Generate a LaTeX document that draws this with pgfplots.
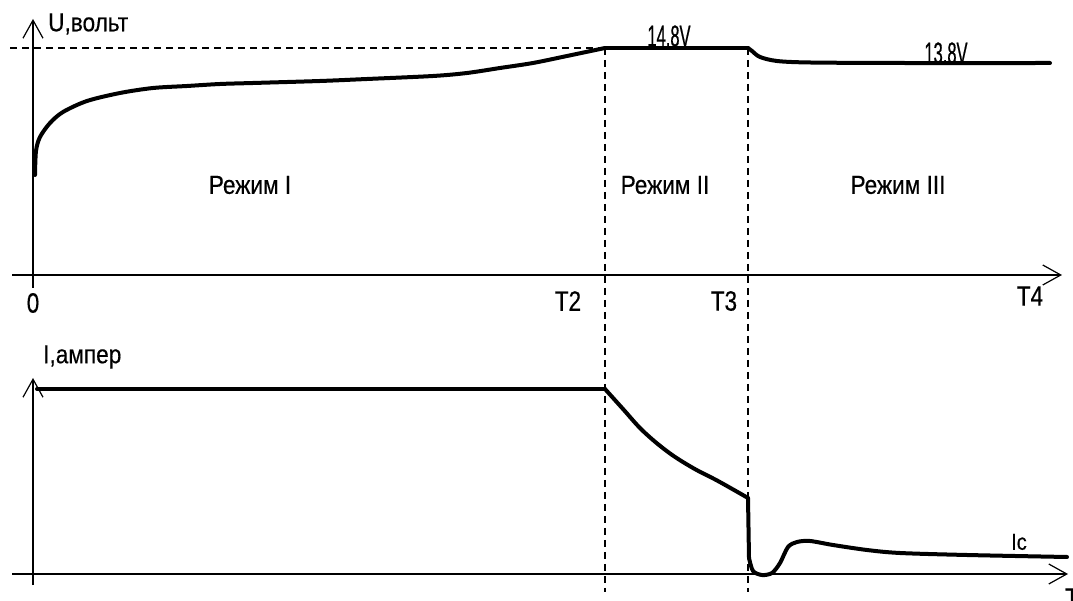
\documentclass[border=0pt]{standalone}
\usepackage{pgfplots}
\pgfplotsset{compat=1.18}
\usepackage{fontspec}
\setmainfont{Liberation Sans}
\newfontfamily\labA[FakeStretch=0.87,FakeBold=0.4]{Liberation Sans}
\newfontfamily\labT[FakeStretch=0.8,FakeBold=0.4]{Liberation Sans}
\newfontfamily\labV[FakeStretch=0.55,FakeBold=0.5]{Liberation Sans}
\usetikzlibrary{arrows.meta}
\begin{document}
\begin{tikzpicture}
\pgfplotsset{
  myax/.style={
    scale only axis, axis lines*=middle, clip=false,
    xtick=\empty, ytick=\empty,
    axis line style={line width=1.2bp,-{Straight Barb[length=18bp,width=20bp]}},
  },
  curve/.style={black, line width=4bp, line cap=round, line join=round},
  dsh/.style={black, line width=1.3bp, dash pattern=on 7bp off 5bp},
}
% ---------- top panel: voltage ----------
\begin{axis}[myax, at={(12bp,313bp)}, anchor=south west,
  width=1050bp, height=269bp, xmin=-21, xmax=1029, ymin=-13, ymax=256]
\addplot[dsh] coordinates {(-23,227) (572,227)};
\addplot[dsh] coordinates {(572,227) (572,-317)};
\addplot[dsh] coordinates {(715,227) (715,-317)};
\addplot[curve, smooth, tension=0.5] coordinates {
 (2,100) (3,124) (7,138) (17,152) (30,163) (54,174) (87,182) (120,187)
 (154,189) (187,191) (220,192) (287,194) (334,196) (400,199) (434,202)
 (467,207) (500,212) (534,219) (572,227)};
\addplot[curve] coordinates {(572,227) (715,227)};
\addplot[curve, smooth, tension=0.5] coordinates {
 (715,227) (719,224) (727,218) (744,214) (777,212.5) (867,212) (1017,212)};
\node[anchor=west, inner sep=0pt] at (axis cs:15,251) {\labA\fontsize{26bp}{30bp}\selectfont U,вольт};
\node at (axis cs:217,90) {\labA\fontsize{26bp}{30bp}\selectfont Режим I};
\node at (axis cs:632,90) {\labA\fontsize{26bp}{30bp}\selectfont Режим II};
\node at (axis cs:865,90) {\labA\fontsize{26bp}{30bp}\selectfont Режим III};
\node at (axis cs:636,239) {\labV\fontsize{30bp}{34bp}\selectfont 14.8V};
\node at (axis cs:913,222) {\labV\fontsize{30bp}{34bp}\selectfont 13.8V};
\node at (axis cs:0,-28) {\labT\fontsize{28bp}{32bp}\selectfont 0};
\node at (axis cs:535,-26) {\labT\fontsize{28bp}{32bp}\selectfont T2};
\node at (axis cs:691,-26) {\labT\fontsize{28bp}{32bp}\selectfont T3};
\node at (axis cs:997,-21) {\labT\fontsize{28bp}{32bp}\selectfont T4};
\end{axis}
% ---------- bottom panel: current ----------
\begin{axis}[myax, at={(12bp,16bp)}, anchor=south west,
  width=1056bp, height=207bp, xmin=-21, xmax=1035, ymin=-11, ymax=196]
\addplot[curve] coordinates {(4,185) (572,185)};
\addplot[curve, smooth, tension=0.6] coordinates {
 (572,185) (590,165) (610,143) (635,122) (660,106) (685,93) (715,76)};
\addplot[curve] coordinates {(715,76) (716,16)};
\addplot[curve, smooth, tension=0.5] coordinates {
 (716,16) (720,3) (729,-1) (739,1) (747,11) (755,27) (764,32) (777,33)
 (800,29) (834,24) (867,21) (934,19) (1034,17)};
\node[anchor=west, inner sep=0pt] at (axis cs:10,217) {\labA\fontsize{26bp}{30bp}\selectfont I,ампер};
\node at (axis cs:986,32) {\labA\fontsize{23bp}{27bp}\selectfont Ic};
\node[anchor=west, inner sep=0pt] at (axis cs:1032,-24) {\labT\fontsize{28bp}{32bp}\selectfont T};
\end{axis}
\pgfresetboundingbox
\path (0,0) rectangle (1073bp,601bp);
\end{tikzpicture}
\end{document}
